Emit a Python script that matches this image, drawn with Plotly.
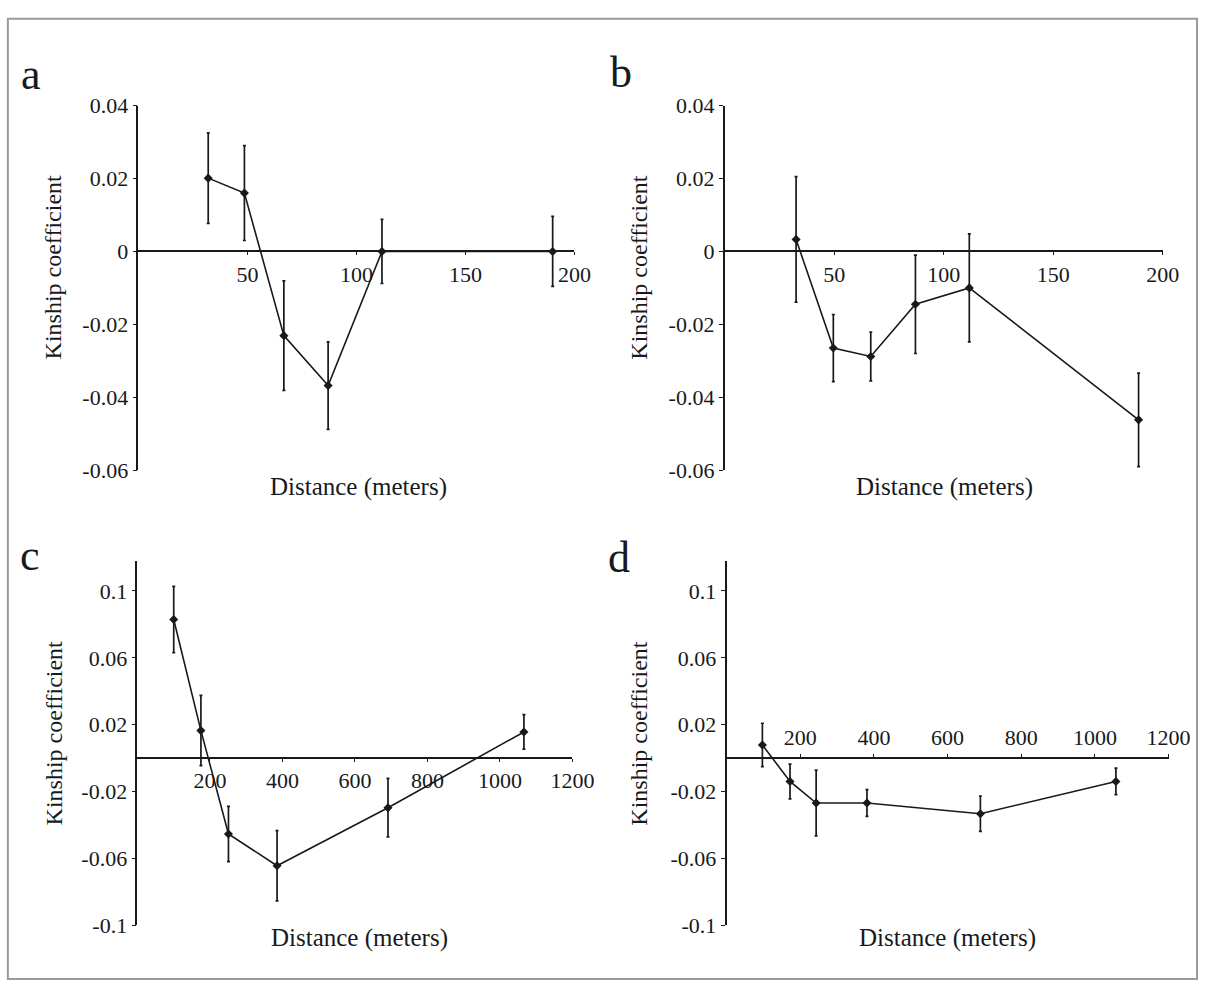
import plotly.graph_objects as go

W, H = 1221, 994

# ---------------- data ----------------
dist_a = [32, 48.6, 66.7, 87, 111.7, 190]
kin_a = [0.0201, 0.0160, -0.0231, -0.0368, 0.0, 0.0]
err_a = [0.0124, 0.0130, 0.0150, 0.0120, 0.0088, 0.0096]

dist_b = [32.6, 49.6, 66.7, 87.1, 111.7, 189]
kin_b = [0.0033, -0.0265, -0.0288, -0.0145, -0.0100, -0.0462]
err_b = [0.0172, 0.0092, 0.0067, 0.0135, 0.0148, 0.0128]

dist_c = [100, 175, 251, 385, 691, 1066]
kin_c = [0.0829, 0.0165, -0.0453, -0.0643, -0.0296, 0.0157]
err_c = [0.0198, 0.0210, 0.0165, 0.0210, 0.0175, 0.0103]

dist_d = [97, 172, 243, 381, 689, 1057]
kin_d = [0.0079, -0.0139, -0.0268, -0.0268, -0.0332, -0.0139]
err_d = [0.0130, 0.0104, 0.0197, 0.0080, 0.0106, 0.0079]

xticks_small = [50, 100, 150, 200]
xticks_large = [200, 400, 600, 800, 1000, 1200]
yticks_small = [0.04, 0.02, 0, -0.02, -0.04, -0.06]
yticks_small_txt = ["0.04", "0.02", "0", "-0.02", "-0.04", "-0.06"]
yticks_large = [0.1, 0.06, 0.02, -0.02, -0.06, -0.1]
yticks_large_txt = ["0.1", "0.06", "0.02", "-0.02", "-0.06", "-0.1"]

panel_letters = ["a", "b", "c", "d"]
x_title = "Distance (meters)"
y_title = "Kinship coefficient"

FONT = "Liberation Serif"
INK = "#161a1d"

# ---------------- layout geometry (pixels) ----------------
panels = [
    dict(d=dist_a, k=kin_a, e=err_a, xr=[0, 200], yr=[-0.06, 0.04],
         xpx=(141, 585), ypx=(96, 470), xt=xticks_small, yt=yticks_small,
         ytt=yticks_small_txt, side="bottom",
         letter=(32, 64), ytitle=(54, 262), xtitle=(365, 487)),
    dict(d=dist_b, k=kin_b, e=err_b, xr=[0, 200], yr=[-0.06, 0.04],
         xpx=(738, 1184), ypx=(96, 470), xt=xticks_small, yt=yticks_small,
         ytt=yticks_small_txt, side="bottom",
         letter=(632, 62), ytitle=(651, 262), xtitle=(962, 487)),
    dict(d=dist_c, k=kin_c, e=err_c, xr=[0, 1200], yr=[-0.1, 0.118],
         xpx=(140, 583), ypx=(563, 937), xt=xticks_large, yt=yticks_large,
         ytt=yticks_large_txt, side="bottom",
         letter=(31, 558), ytitle=(55, 740), xtitle=(366, 950)),
    dict(d=dist_d, k=kin_d, e=err_d, xr=[0, 1200], yr=[-0.1, 0.118],
         xpx=(740, 1190), ypx=(563, 937), xt=xticks_large, yt=yticks_large,
         ytt=yticks_large_txt, side="top",
         letter=(630, 560), ytitle=(651, 740), xtitle=(965, 950)),
]


def fx(p):
    return p / W


def fy(p):
    return 1 - p / H


fig = go.Figure()
annotations = []

for i, p in enumerate(panels):
    n = "" if i == 0 else str(i + 1)
    xa, ya = "x" + n, "y" + n
    fig.add_trace(go.Scatter(
        x=p["d"], y=p["k"], xaxis=xa, yaxis=ya, mode="lines+markers",
        line=dict(color=INK, width=1.6),
        marker=dict(symbol="diamond", size=7, color=INK),
        error_y=dict(type="data", array=p["e"], visible=True,
                     color=INK, thickness=1.7, width=1.5),
        cliponaxis=False, showlegend=False, hoverinfo="skip"))

    ydom = [fy(p["ypx"][1]), fy(p["ypx"][0])]
    y0, y1 = p["yr"]
    zero_pos = ydom[0] + (0 - y0) / (y1 - y0) * (ydom[1] - ydom[0])

    fig.layout["xaxis" + n] = dict(
        domain=[fx(p["xpx"][0]), fx(p["xpx"][1])], range=p["xr"],
        anchor="free", position=zero_pos, side=p["side"],
        showline=True, linecolor=INK, linewidth=1.8,
        showgrid=False, zeroline=False,
        tickmode="array", tickvals=p["xt"], ticktext=[str(v) for v in p["xt"]],
        ticks="outside", ticklen=3, tickwidth=1, tickcolor=INK,
        tickfont=dict(family=FONT, size=22, color=INK), fixedrange=True)
    fig.layout["yaxis" + n] = dict(
        domain=ydom, range=p["yr"], anchor=xa,
        showline=True, linecolor=INK, linewidth=1.8,
        showgrid=False, zeroline=False,
        tickmode="array", tickvals=p["yt"], ticktext=p["ytt"],
        ticks="outside", ticklen=4, tickwidth=1, tickcolor=INK,
        tickfont=dict(family=FONT, size=22, color=INK), fixedrange=True)

    annotations.append(dict(
        text=panel_letters[i], xref="paper", yref="paper",
        x=fx(p["letter"][0]), y=fy(p["letter"][1]), showarrow=False,
        xanchor="center", yanchor="middle",
        font=dict(family=FONT, size=44, color=INK)))
    annotations.append(dict(
        text=y_title, xref="paper", yref="paper", textangle=-90,
        x=fx(p["ytitle"][0]), y=fy(p["ytitle"][1]), showarrow=False,
        xanchor="center", yanchor="middle",
        font=dict(family=FONT, size=24, color=INK)))
    annotations.append(dict(
        text=x_title, xref="paper", yref="paper",
        x=fx(p["xtitle"][0]), y=fy(p["xtitle"][1]), showarrow=False,
        xanchor="center", yanchor="middle",
        font=dict(family=FONT, size=25, color=INK)))

fig.update_layout(
    autosize=True, margin=dict(l=0, r=0, t=0, b=0),
    paper_bgcolor="white", plot_bgcolor="rgba(0,0,0,0)",
    font=dict(family=FONT, color=INK),
    annotations=annotations,
    shapes=[dict(type="rect", xref="paper", yref="paper",
                 x0=fx(8), x1=fx(1219), y0=fy(992), y1=fy(7),
                 line=dict(color="#9a9a9a", width=2))],
)

fig.write_html(
    "out.html",
    default_width="100vw",
    default_height="100vh",
    config={"displayModeBar": False, "responsive": True},
    post_script="document.body.style.margin='0';"
                "document.body.style.overflow='hidden';"
                "window.dispatchEvent(new Event('resize'));",
)
